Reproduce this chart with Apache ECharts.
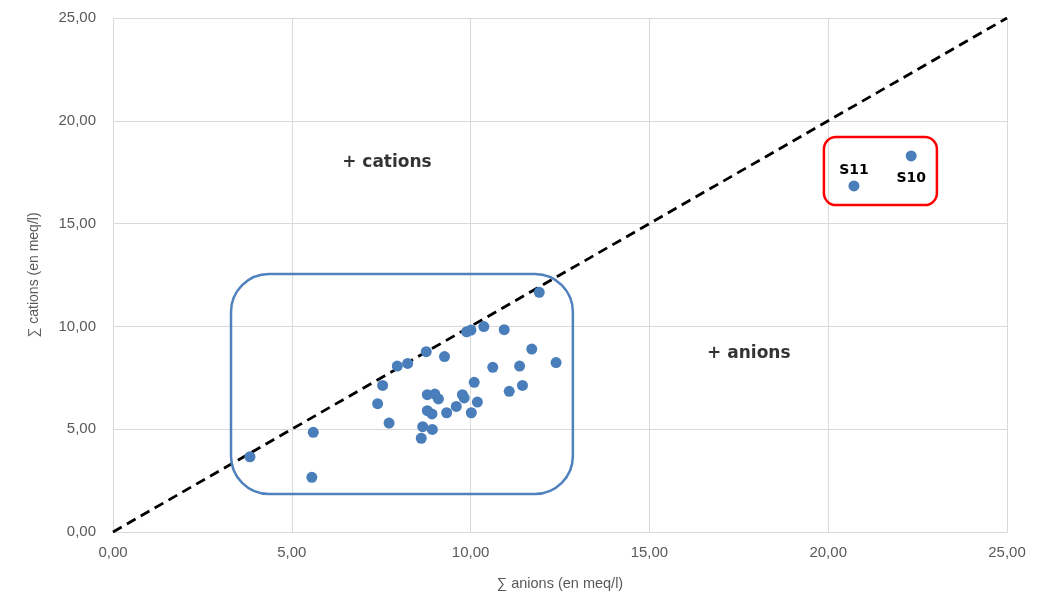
<!DOCTYPE html>
<html>
<head>
<meta charset="utf-8">
<script src="https://cdn.jsdelivr.net/npm/echarts@6/dist/echarts.min.js"></script>
<style>html,body{margin:0;padding:0;background:#fff;}#c{width:1039px;height:597px;}</style>
</head>
<body>
<div id="c"></div>
<script>
// Σ anions (x) and Σ cations (y), meq/l
const anions = [3.83,5.60,5.56,7.40,7.54,7.72,7.95,8.24,8.76,8.79,9.00,9.10,8.79,8.92,8.66,8.93,8.62,9.27,9.33,9.60,9.77,9.82,9.89,10.01,10.02,10.10,10.19,10.37,10.62,10.94,11.08,11.37,11.45,11.71,11.92,12.39];
const cations = [3.66,4.85,2.66,6.24,7.13,5.30,8.07,8.20,8.77,6.68,6.71,6.47,5.90,5.74,5.12,4.99,4.56,8.53,5.80,6.11,6.68,6.52,9.74,9.82,5.80,7.28,6.32,9.99,8.01,9.84,6.84,8.07,7.13,8.90,11.66,8.24];
const specialNames = ['S11','S10'];
const specialAnions = [20.72,22.32];
const specialCations = [16.83,18.29];
const regionTexts = ['+ cations','+ anions'];
const regionX = [7.66,17.78];
const regionY = [17.95,8.70];
const equalityLine = [[0,0],[25,25]];
const blueBox = [[3.30,1.85],[12.86,12.55]];
const redBox = [[19.88,15.90],[23.04,19.21]];

const fmt = v => v.toFixed(2).replace('.', ',');
const axisFont = 'Liberation Sans, sans-serif';
const boldFont = 'DejaVu Sans, sans-serif';

const chart = echarts.init(document.getElementById('c'));
const pts = anions.map((a,i)=>[a,cations[i]]);
const sp = specialNames.map((n,i)=>({value:[specialAnions[i],specialCations[i]], name:n,
  label:{show:true, formatter:n, position: i===0?'top':'bottom', distance: i===0?3:10,
    fontWeight:'bold', fontSize:14, color:'#000', fontFamily:boldFont}}));
const rt = regionTexts.map((t,i)=>({value:[regionX[i],regionY[i]], label:{show:true, formatter:t, position:'inside',
  fontWeight:'bold', fontSize:17, color:'#000', fontFamily:boldFont}}));

chart.setOption({
  animation:false,
  grid:{left:113,right:32,top:18,bottom:65},
  xAxis:{type:'value',min:0,max:25,interval:5,
    name:'∑ anions (en meq/l)',nameLocation:'middle',nameGap:44,
    nameTextStyle:{color:'#595959',fontSize:14.5,fontFamily:axisFont},
    axisLine:{show:true,lineStyle:{color:'#d9d9d9'}},axisTick:{show:false},
    axisLabel:{formatter:fmt,color:'#595959',fontSize:15,margin:13,fontFamily:axisFont},
    splitLine:{lineStyle:{color:'#d9d9d9'}}},
  yAxis:{type:'value',min:0,max:25,interval:5,
    name:'∑ cations (en meq/l)',nameLocation:'middle',nameGap:72,
    nameTextStyle:{color:'#595959',fontSize:14,fontFamily:axisFont},
    axisLine:{show:true,lineStyle:{color:'#d9d9d9'}},axisTick:{show:false},
    axisLabel:{formatter:fmt,color:'#595959',fontSize:15,margin:17,fontFamily:axisFont},
    splitLine:{lineStyle:{color:'#d9d9d9'}}},
  series:[
    {type:'line',data:equalityLine,symbol:'none',silent:true,z:1,
      lineStyle:{color:'#000',width:2.8,type:[10,6]}},
    {type:'scatter',data:pts,symbolSize:11,itemStyle:{color:'#4a7ebb',opacity:1},z:3},
    {type:'scatter',data:sp,symbolSize:11,itemStyle:{color:'#4a7ebb',opacity:1},z:3},
    {type:'scatter',data:rt,symbolSize:0,z:4}
  ]
});

function box(b,color,r){
  const p0 = chart.convertToPixel({gridIndex:0}, b[0]);
  const p1 = chart.convertToPixel({gridIndex:0}, b[1]);
  return {type:'rect',shape:{x:p0[0],y:p1[1],width:p1[0]-p0[0],height:p0[1]-p1[1],r:r},
    style:{fill:'none',stroke:color,lineWidth:2.5},z:5};
}
chart.setOption({graphic:[box(blueBox,'#4f81bd',38),box(redBox,'#ff0000',12)]});
</script>
</body>
</html>
